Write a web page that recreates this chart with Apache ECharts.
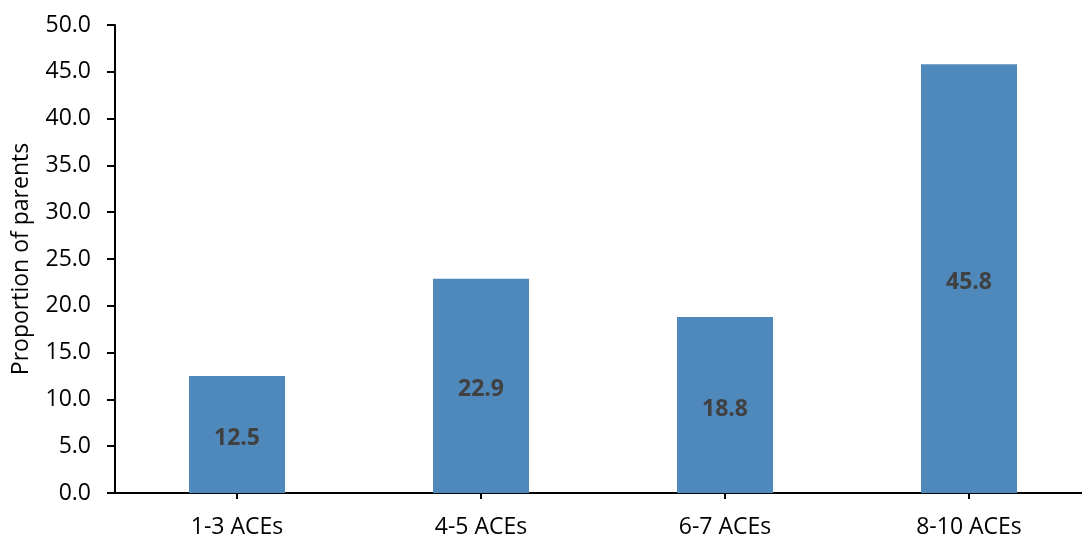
<!DOCTYPE html>
<html>
<head>
<meta charset="utf-8">
<script src="https://cdn.jsdelivr.net/npm/echarts@6/dist/echarts.min.js"></script>
<style>
html,body{margin:0;padding:0;background:#fff;}
#chart{width:1082px;height:540px;}
</style>
</head>
<body>
<div id="chart"></div>
<script>
const categories = ['1-3 ACEs', '4-5 ACEs', '6-7 ACEs', '8-10 ACEs'];
const proportions = [12.5, 22.9, 18.8, 45.8];
const yAxisTitle = 'Proportion of parents';
const yMin = 0, yMax = 50, yStep = 5;

const chart = echarts.init(document.getElementById('chart'), null, {renderer: 'canvas'});
chart.setOption({
  animation: false,
  backgroundColor: '#ffffff',
  textStyle: {fontFamily: 'Open Sans'},
  grid: {left: 115, top: 25, height: 468, width: 976, containLabel: false, outerBoundsMode: 'none'},
  xAxis: {
    type: 'category',
    data: categories,
    axisLine: {show: true, lineStyle: {color: '#000', width: 2}},
    axisTick: {show: true, alignWithLabel: true, length: 6, lineStyle: {color: '#000', width: 2}},
    axisLabel: {color: '#000', fontSize: 23, fontFamily: 'Open Sans', margin: 23},
    splitLine: {show: false}
  },
  yAxis: {
    type: 'value',
    min: yMin, max: yMax, interval: yStep,
    name: yAxisTitle,
    nameLocation: 'middle',
    nameRotate: 90,
    nameGap: 82,
    nameTextStyle: {color: '#000', fontSize: 23, fontFamily: 'Open Sans'},
    axisLine: {show: true, lineStyle: {color: '#000', width: 2}},
    axisTick: {show: true, length: 8, lineStyle: {color: '#000', width: 2}},
    axisLabel: {color: '#000', fontSize: 23, fontFamily: 'Open Sans', margin: 24,
      formatter: v => v.toFixed(1)},
    splitLine: {show: false}
  },
  series: [{
    type: 'bar',
    data: proportions,
    barWidth: 96,
    itemStyle: {color: '#4F89BC'},
    label: {
      show: true, position: 'inside', offset: [0, 4],
      color: '#404040', fontSize: 23, fontWeight: 'bold', fontFamily: 'Open Sans',
      formatter: p => p.value.toFixed(1)
    }
  }]
});
</script>
</body>
</html>
